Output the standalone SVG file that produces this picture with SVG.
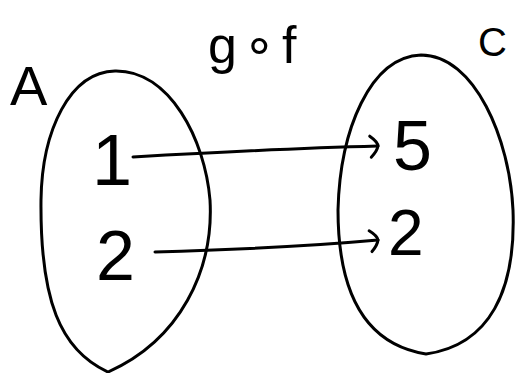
<svg xmlns="http://www.w3.org/2000/svg" width="522" height="373" viewBox="0 0 522 373">
<defs>
<style>
.s{fill:none;stroke:#000;stroke-width:3;stroke-linecap:round;stroke-linejoin:round}
.t{font-family:"Liberation Sans",sans-serif;fill:#000}
</style>
<marker id="ah" viewBox="0 0 14 26" refX="11" refY="12" markerWidth="14" markerHeight="26" markerUnits="userSpaceOnUse" orient="auto">
<path d="M3,2 Q11,8 11,12 Q10,17 4,23" fill="none" stroke="#000" stroke-width="3" stroke-linecap="round"/>
</marker>
</defs>
<rect width="522" height="373" fill="#fff"/>
<g id="setA">
<path class="s" d="M115,71 C170,70 205,140 210,200 C214,270 180,340 108,372 C60,350 40,300 41,200 C42,130 70,72 115,71 Z"/>
<text class="t" x="10" y="105" font-size="56">A</text>
<text class="t" x="92" y="185" font-size="72">1</text>
<text class="t" x="96" y="280" font-size="70">2</text>
</g>
<g id="setC">
<path class="s" d="M421,55 C475,55 510,140 513,210 C516,290 490,345 426,354 C370,345 338,300 338,210 C340,130 370,57 421,55 Z"/>
<text class="t" x="478" y="56" font-size="40">C</text>
<text class="t" x="393" y="170" font-size="70">5</text>
<text class="t" x="388" y="255" font-size="64">2</text>
</g>
<g id="label">
<text class="t" x="208" y="63" font-size="52" letter-spacing="6">g∘f</text>
</g>
<g id="connectors">
<path class="s" d="M133,157 C220,152 300,148 378,146" marker-end="url(#ah)"/>
<path class="s" d="M155,252 C230,250 300,247 378,240" marker-end="url(#ah)"/>
</g>
</svg>
